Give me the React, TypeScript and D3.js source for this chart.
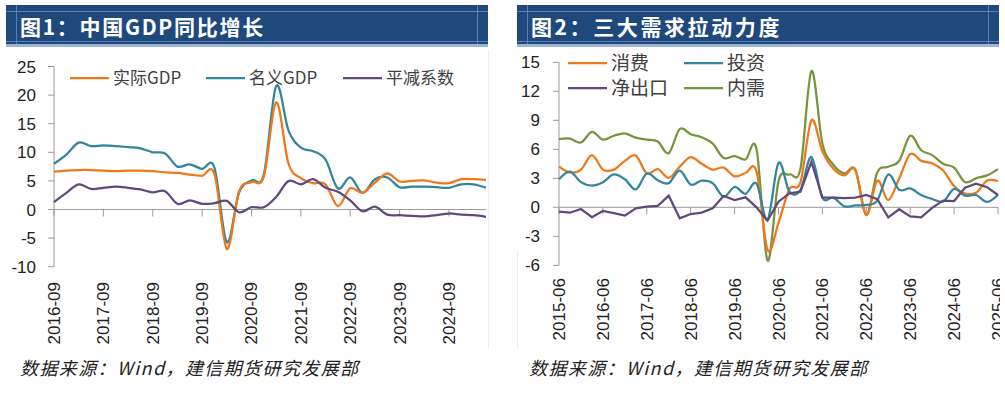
import React from "react";
import * as d3 from "d3";

// ---------- Chart 1: 中国GDP同比增长 (quarterly, 2016Q3 – 2025Q2) ----------
const leftTickLabels = ["2016-09", "2017-09", "2018-09", "2019-09", "2020-09", "2021-09", "2022-09", "2023-09", "2024-09"];
const realGDP = [6.6, 6.8, 6.9, 6.9, 6.8, 6.7, 6.8, 6.8, 6.7, 6.5, 6.4, 6.1, 5.9, 6.2, -6.9, 3.2, 4.8, 5.8, 18.7, 8.0, 5.5, 4.6, 4.4, 0.6, 3.7, 2.9, 4.7, 6.3, 4.9, 5.0, 5.1, 4.7, 4.6, 5.3, 5.3, 5.2];
const nominalGDP = [8.0, 9.6, 11.7, 11.1, 11.2, 11.1, 10.9, 10.7, 10.0, 9.8, 7.5, 7.9, 7.1, 7.3, -5.7, 3.0, 5.1, 6.1, 21.6, 13.8, 10.8, 10.2, 8.7, 3.7, 5.6, 2.9, 5.3, 5.6, 3.9, 4.0, 4.0, 3.9, 3.8, 4.4, 4.4, 3.8];
const deflator = [1.3, 2.9, 4.4, 3.6, 3.8, 4.0, 3.8, 3.5, 3.0, 3.2, 1.0, 1.6, 1.0, 1.1, 1.5, -0.5, 0.4, 0.4, 2.2, 5.0, 4.4, 5.3, 3.8, 3.1, 1.6, -0.3, 0.5, -0.9, -1.0, -1.1, -1.2, -1.0, -0.7, -0.9, -1.0, -1.3];
const leftYTicks = [-10, -5, 0, 5, 10, 15, 20, 25];

// ---------- Chart 2: 三大需求拉动力度 (quarterly, 2015Q2 – 2025Q2) ----------
const rightTickLabels = ["2015-06", "2016-06", "2017-06", "2018-06", "2019-06", "2020-06", "2021-06", "2022-06", "2023-06", "2024-06", "2025-06"];
const consumption = [4.2, 3.6, 3.9, 5.4, 3.9, 3.9, 4.8, 5.35, 3.5, 3.95, 3.05, 4.2, 5.2, 4.5, 3.9, 4.1, 3.2, 3.55, 3.7, -4.4, -1.6, 1.9, 2.6, 9.0, 5.8, 4.0, 3.3, 3.85, -0.8, 2.75, 0.75, 3.0, 5.5, 4.8, 4.55, 3.8, 2.2, 1.42, 1.5, 2.75, 2.7];
const investment = [2.9, 3.7, 2.6, 2.25, 2.6, 3.4, 2.9, 1.85, 3.5, 2.8, 2.5, 3.8, 2.35, 2.75, 2.5, 1.1, 2.1, 1.4, 2.45, -1.3, 4.6, 1.6, 1.8, 5.2, 1.0, 1.0, 0.1, 0.2, 0.25, 0.7, 3.4, 1.8, 1.95, 1.27, 0.86, 0.6, 1.9, 1.2, 1.27, 0.55, 1.3];
const netExports = [-0.45, -0.56, -0.18, -1.03, -0.38, -0.6, -0.86, -0.1, 0.07, 0.14, 1.2, -1.14, -0.7, -0.55, -0.1, 1.17, 0.75, 1.03, 0.0, -1.38, 0.58, 1.44, 1.62, 4.72, 1.0, 1.0, 0.95, 1.0, 1.27, 0.85, -1.05, -0.2, -0.95, -1.05, -0.05, 0.7, 0.65, 2.03, 2.45, 2.08, 1.27];
const domesticDemand = [7.06, 7.1, 6.7, 7.8, 7.0, 7.4, 7.65, 7.2, 7.0, 6.8, 5.6, 8.1, 7.55, 7.25, 6.6, 5.1, 5.3, 4.95, 6.0, -5.5, 2.7, 3.4, 4.0, 14.1, 6.6, 4.4, 3.5, 3.9, -0.8, 3.6, 4.2, 4.8, 7.4, 5.9, 5.4, 4.5, 4.1, 2.6, 3.0, 3.3, 3.95];
const rightYTicks = [-6, -3, 0, 3, 6, 9, 12, 15];

const ORANGE = "#F07818";
const TEAL = "#31859C";
const PURPLE = "#604A7B";
const GREEN = "#77933C";
const NAVY = "#1F497D";
const AXIS = "#9A9A9A";
const TICKFONT = "'Liberation Sans', Arial, sans-serif";
const CJK = "'Noto Sans CJK SC', sans-serif";

function TitleBar({ x, w, text, ls }: { x: number; w: number; text: string; ls: number }) {
  return (
    <g>
      <rect x={x} y={5} width={w} height={39} fill={NAVY} />
      <line x1={x} x2={x + w} y1={11.5} y2={11.5} stroke="#5E80B4" strokeWidth={1} />
      <line x1={x} x2={x + w} y1={41.5} y2={41.5} stroke="#5E80B4" strokeWidth={1} />
      <line x1={x + 10.5} x2={x + 10.5} y1={5} y2={44} stroke="#5E80B4" strokeWidth={1} />
      <line x1={x + w - 10.5} x2={x + w - 10.5} y1={5} y2={44} stroke="#5E80B4" strokeWidth={1} />
      <rect x={x} y={44} width={w} height={3} fill="#9DB6D8" />
      <text x={x + 14} y={35} fill="#fff" fontSize={21} fontWeight={700} fontFamily={CJK} letterSpacing={ls}>
        {text}
      </text>
    </g>
  );
}

function Footer({ x }: { x: number }) {
  return (
    <text x={x} y={375} fontSize={18} fontStyle="italic" fontFamily={CJK} fill="#222" letterSpacing={1.4}>
      数据来源：Wind，建信期货研究发展部
    </text>
  );
}

function LegendItem({ x, y, color, label, fs }: { x: number; y: number; color: string; label: string; fs: number }) {
  return (
    <g>
      <line x1={x} x2={x + 39} y1={y} y2={y} stroke={color} strokeWidth={2.25} />
      <text x={x + 43} y={y + fs * 0.36} fontSize={fs} fontFamily={CJK} fill="#404040">
        {label}
      </text>
    </g>
  );
}

function LeftChart() {
  const x = d3.scaleLinear().domain([0, 35]).range([54, 486]);
  const y = d3.scaleLinear().domain([-10, 25]).range([266.7, 66.5]);
  const line = d3
    .line<number>()
    .x((_, i) => x(i))
    .y((d) => y(d))
    .curve(d3.curveCardinal.tension(0));
  const y0 = y(0);
  const xTicks = leftTickLabels.map((_, k) => k * 4);
  return (
    <g>
      {/* faint frame of chart image */}
      <line x1={488.5} x2={488.5} y1={50} y2={348} stroke="#ECECEC" />
      {/* axes */}
      <line x1={54} x2={54} y1={y(25)} y2={y(-10)} stroke={AXIS} strokeWidth={1} />
      {leftYTicks.map((t) => (
        <g key={t}>
          <line x1={48} x2={54} y1={y(t)} y2={y(t)} stroke={AXIS} />
          <text x={36} y={y(t)} dy="0.36em" textAnchor="end" fontSize={17} fontFamily={TICKFONT} fill="#222">
            {t}
          </text>
        </g>
      ))}
      <line x1={54} x2={486} y1={y0} y2={y0} stroke={AXIS} strokeWidth={1} />
      {xTicks.map((i) => (
        <line key={i} x1={x(i)} x2={x(i)} y1={y0} y2={y0 + 7} stroke={AXIS} />
      ))}
      {leftTickLabels.map((lab, k) => (
        <text
          key={lab}
          transform={`translate(${x(k * 4) + 6},282) rotate(-90)`}
          textAnchor="end"
          fontSize={17}
          fontFamily={TICKFONT}
          fill="#222"
        >
          {lab}
        </text>
      ))}
      <path d={line(nominalGDP) || ""} fill="none" stroke={TEAL} strokeWidth={2.25} />
      <path d={line(realGDP) || ""} fill="none" stroke={ORANGE} strokeWidth={2.25} />
      <path d={line(deflator) || ""} fill="none" stroke={PURPLE} strokeWidth={2.25} />
      <LegendItem x={70} y={78} color={ORANGE} label="实际GDP" fs={17} />
      <LegendItem x={206} y={78} color={TEAL} label="名义GDP" fs={17} />
      <LegendItem x={343} y={78} color={PURPLE} label="平减系数" fs={17} />
    </g>
  );
}

function RightChart() {
  const x = d3.scaleLinear().domain([0, 40]).range([559, 998]);
  const y = d3.scaleLinear().domain([-6, 15]).range([265.3, 62.3]);
  const smooth = d3
    .line<number>()
    .x((_, i) => x(i))
    .y((d) => y(d))
    .curve(d3.curveCardinal.tension(0));
  const straight = d3
    .line<number>()
    .x((_, i) => x(i))
    .y((d) => y(d));
  const y0 = y(0);
  const xTicks = rightTickLabels.map((_, k) => k * 4);
  return (
    <g clipPath="url(#rightClip)">
      <line x1={517.5} x2={517.5} y1={250} y2={348} stroke="#ECECEC" />
      <line x1={559} x2={559} y1={y(15)} y2={y(-6)} stroke={AXIS} strokeWidth={1} />
      {rightYTicks.map((t) => (
        <g key={t}>
          <line x1={553} x2={559} y1={y(t)} y2={y(t)} stroke={AXIS} />
          <text x={540} y={y(t)} dy="0.36em" textAnchor="end" fontSize={17} fontFamily={TICKFONT} fill="#222">
            {t}
          </text>
        </g>
      ))}
      <line x1={559} x2={998} y1={y0} y2={y0} stroke={AXIS} strokeWidth={1} />
      {xTicks.map((i) => (
        <line key={i} x1={x(i)} x2={x(i)} y1={y0} y2={y0 + 7} stroke={AXIS} />
      ))}
      {rightTickLabels.map((lab, k) => (
        <text
          key={lab}
          transform={`translate(${x(k * 4) + 6},278) rotate(-90)`}
          textAnchor="end"
          fontSize={17}
          fontFamily={TICKFONT}
          fill="#222"
        >
          {lab}
        </text>
      ))}
      <path d={smooth(domesticDemand) || ""} fill="none" stroke={GREEN} strokeWidth={2.25} />
      <path d={smooth(consumption) || ""} fill="none" stroke={ORANGE} strokeWidth={2.25} />
      <path d={smooth(investment) || ""} fill="none" stroke={TEAL} strokeWidth={2.25} />
      <path d={straight(netExports) || ""} fill="none" stroke={PURPLE} strokeWidth={2.25} />
      <LegendItem x={568} y={63} color={ORANGE} label="消费" fs={19} />
      <LegendItem x={684} y={63} color={TEAL} label="投资" fs={19} />
      <LegendItem x={568} y={88} color={PURPLE} label="净出口" fs={19} />
      <LegendItem x={684} y={88} color={GREEN} label="内需" fs={19} />
    </g>
  );
}

export default function App() {
  return (
    <svg
      width={1005}
      height={394}
      viewBox="0 0 1005 394"
      style={{ position: "absolute", left: 0, top: 0, background: "#fff" }}
    >
      <defs>
        <clipPath id="rightClip">
          <rect x={500} y={0} width={500} height={394} />
        </clipPath>
      </defs>
      <rect x={0} y={0} width={1005} height={394} fill="#fff" />
      <TitleBar x={6} w={482} text="图1：中国GDP同比增长" ls={1.7} />
      <TitleBar x={517} w={482} text="图2：三大需求拉动力度" ls={2.6} />
      <LeftChart />
      <RightChart />
      <Footer x={20} />
      <Footer x={529} />
    </svg>
  );
}
